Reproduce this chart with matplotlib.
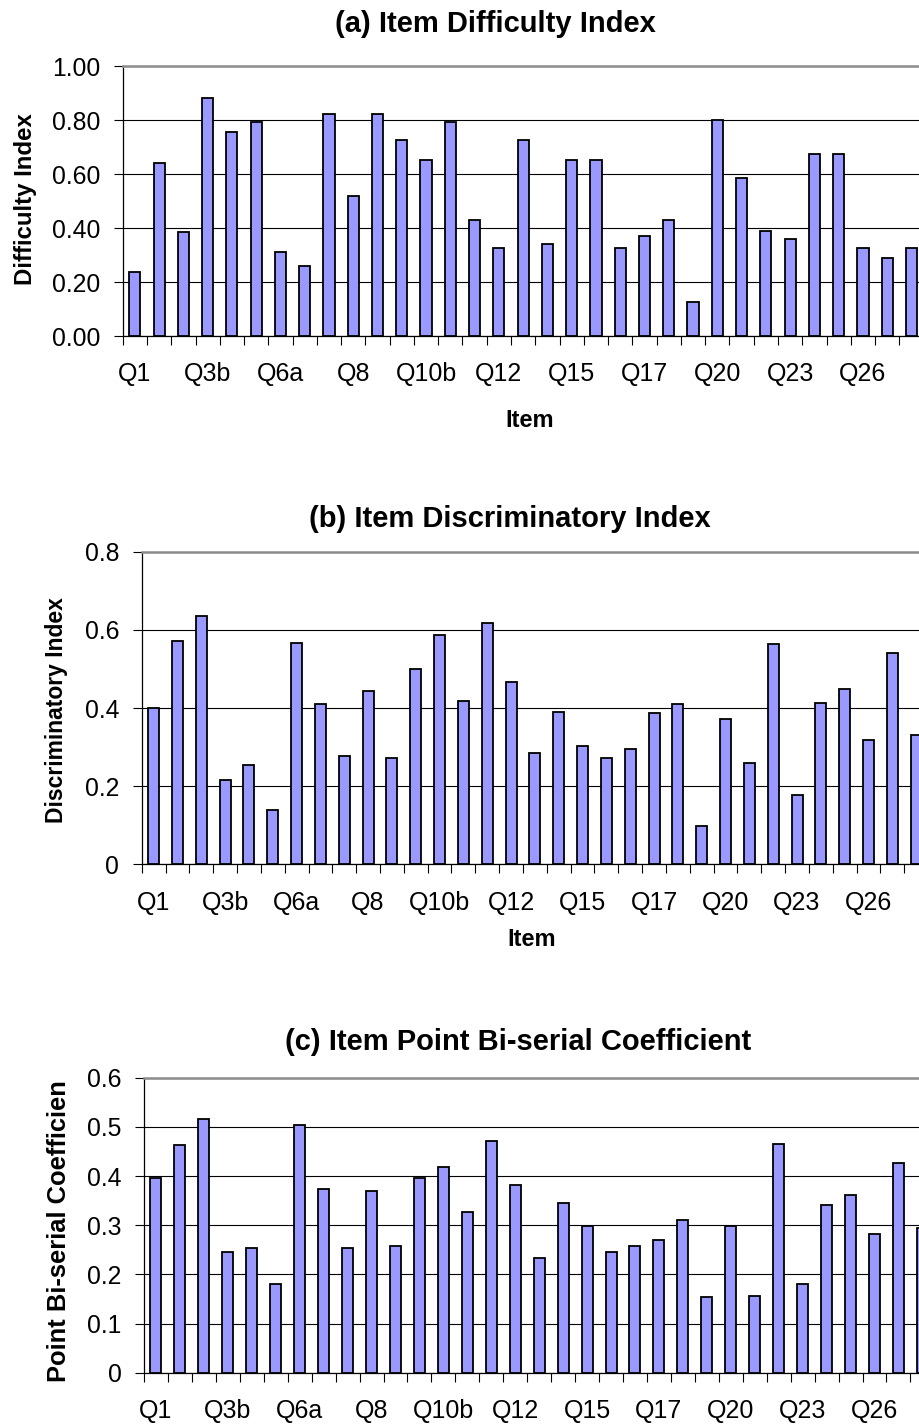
import matplotlib
matplotlib.use('Agg')
import matplotlib.pyplot as plt
from matplotlib.ticker import FixedLocator, FuncFormatter

plt.rcParams['font.family'] = ['Liberation Sans', 'DejaVu Sans']

# ---------------- data ----------------
items = ['Q1', 'Q2', 'Q3a', 'Q3b', 'Q4', 'Q5', 'Q6a', 'Q6b', 'Q7', 'Q8', 'Q9',
         'Q10a', 'Q10b', 'Q10c', 'Q11', 'Q12', 'Q13', 'Q14', 'Q15', 'Q16a', 'Q16b',
         'Q17', 'Q18', 'Q19', 'Q20', 'Q21', 'Q22', 'Q23', 'Q24', 'Q25', 'Q26', 'Q27', 'Q28']

difficulty = [0.236, 0.642, 0.385, 0.880, 0.756, 0.791, 0.311, 0.258, 0.821, 0.519, 0.821,
              0.726, 0.652, 0.791, 0.428, 0.325, 0.726, 0.341, 0.652, 0.652, 0.325,
              0.370, 0.428, 0.125, 0.800, 0.585, 0.390, 0.360, 0.673, 0.673, 0.325, 0.288, 0.325]

discrimination = [0.399, 0.572, 0.635, 0.217, 0.253, 0.139, 0.567, 0.409, 0.276, 0.444, 0.272,
                  0.500, 0.586, 0.418, 0.617, 0.467, 0.286, 0.390, 0.304, 0.272, 0.294,
                  0.386, 0.409, 0.099, 0.372, 0.258, 0.564, 0.177, 0.413, 0.449, 0.317, 0.541, 0.331]

biserial = [0.395, 0.463, 0.515, 0.246, 0.254, 0.181, 0.503, 0.374, 0.254, 0.370, 0.258,
            0.395, 0.419, 0.326, 0.471, 0.382, 0.233, 0.346, 0.298, 0.245, 0.258,
            0.269, 0.310, 0.153, 0.298, 0.157, 0.466, 0.181, 0.342, 0.362, 0.282, 0.426, 0.294]

titles = ['(a) Item Difficulty Index', '(b) Item Discriminatory Index',
          '(c) Item Point Bi-serial Coefficient']
ylabels = ['Difficulty Index', 'Discriminatory Index', 'Point Bi-serial Coefficien']
xlabel = 'Item'

# ---------------- layout ----------------
W, H = 919, 1428
fig = plt.figure(figsize=(W / 100, H / 100), dpi=100)
fig.patch.set_facecolor('white')

BAR = '#9999FF'


def fx(x):
    return x / W


def fy(y):
    return 1 - y / H


panels = [
    dict(left=122.7, top=66.0, bottom=336.0, step=24.27, ymax=1.0, ystep=0.2,
         fmt=lambda v, p: f'{v:.2f}', data=difficulty),
    dict(left=141.7, top=551.7, bottom=864.3, step=23.83, ymax=0.8, ystep=0.2,
         fmt=lambda v, p: '0' if abs(v) < 1e-9 else f'{v:.1f}', data=discrimination),
    dict(left=144.0, top=1077.7, bottom=1372.7, step=23.95, ymax=0.6, ystep=0.1,
         fmt=lambda v, p: '0' if abs(v) < 1e-9 else f'{v:.1f}', data=biserial),
]

title_pos = [(495, 32), (510, 527), (518, 1050)]
ylabel_pos = [(26, 199), (57, 710), (59, 1231)]
xlabel_pos = [(530, 420), (532, 939)]
ylabel_sizes = [17.3, 16.5, 18.4]

n = len(items)
for i, p in enumerate(panels):
    left, top, bottom, step = p['left'], p['top'], p['bottom'], p['step']
    ax = fig.add_axes([fx(left), fy(bottom), (W - left) / W, (bottom - top) / H])
    x = list(range(n))
    ax.bar(x, p['data'], width=0.46, color=BAR, edgecolor='black', linewidth=1.3, zorder=3)
    ax.set_xlim(-0.5, -0.5 + (W - left) / step)
    ax.set_ylim(0, p['ymax'])
    nt = int(round(p['ymax'] / p['ystep']))
    yt = [k * p['ystep'] for k in range(nt + 1)]
    ax.set_yticks(yt)
    ax.yaxis.set_major_formatter(FuncFormatter(p['fmt']))
    ax.grid(axis='y', color='black', linewidth=0.8)
    ax.set_axisbelow(True)

    ax.xaxis.set_major_locator(FixedLocator(list(range(0, n, 3))))
    ax.set_xticklabels(items[::3])
    ax.xaxis.set_minor_locator(FixedLocator([k - 0.5 for k in range(n + 1)]))
    ax.tick_params(axis='x', which='major', length=0, pad=19, labelsize=18)
    ax.tick_params(axis='x', which='minor', length=6.5, width=0.8, direction='out')
    ax.tick_params(axis='y', which='major', length=6.2, width=0.8, direction='out',
                   pad=10, labelsize=17.8)

    ax.spines['right'].set_visible(False)
    ax.spines['top'].set_color('#8c8c8c')
    ax.spines['top'].set_linewidth(1.8)
    ax.spines['left'].set_color('black')
    ax.spines['left'].set_linewidth(0.9)
    ax.spines['bottom'].set_color('black')
    ax.spines['bottom'].set_linewidth(0.9)

    tx, ty = title_pos[i]
    fig.text(fx(tx), fy(ty), titles[i], ha='center', va='baseline',
             fontsize=21, fontweight='bold')
    lx, ly = ylabel_pos[i]
    fig.text(fx(lx), fy(ly), ylabels[i], ha='center', va='center', rotation=90,
             fontsize=ylabel_sizes[i], fontweight='bold')
    if i < len(xlabel_pos):
        xx, xy = xlabel_pos[i]
        fig.text(fx(xx), fy(xy), xlabel, ha='center', va='center',
                 fontsize=17, fontweight='bold')

fig.savefig('out.png', dpi=100, facecolor='white')
